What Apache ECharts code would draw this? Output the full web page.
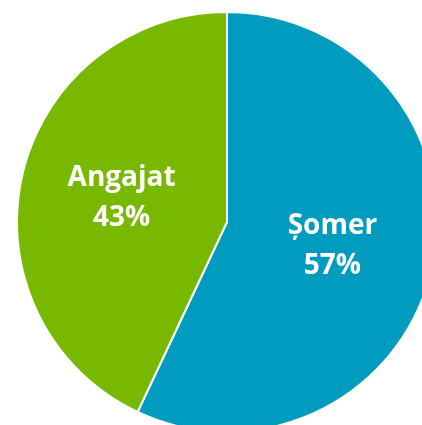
<!DOCTYPE html>
<html>
<head>
<meta charset="utf-8">
<script src="https://cdn.jsdelivr.net/npm/echarts@6/dist/echarts.min.js"></script>
<style>
  html, body { margin: 0; padding: 0; background: #fff; }
  #chart { width: 422px; height: 425px; }
</style>
</head>
<body>
<div id="chart"></div>
<script>
var categories = ["Șomer", "Angajat"];
var values = [57, 43];
var colors = ["#009CC0", "#78B900"];

var pieData = categories.map(function (name, i) {
    return { name: name, value: values[i], itemStyle: { color: colors[i] } };
});

var chart = echarts.init(document.getElementById("chart"));
chart.setOption({
    animation: false,
    series: [
        {
            type: 'pie',
            center: [227, 222],
            radius: 210,
            startAngle: 90,
            clockwise: true,
            data: pieData,
            itemStyle: { borderColor: '#fff', borderWidth: 2 },
            label: {
                position: 'inside',
                formatter: '{b}\n{d}%',
                color: '#fff',
                fontFamily: 'Open Sans',
                fontWeight: 'bold',
                fontSize: 28,
                lineHeight: 40
            },
            labelLine: { show: false },
            emphasis: { disabled: true }
        }
    ]
});
</script>
</body>
</html>
